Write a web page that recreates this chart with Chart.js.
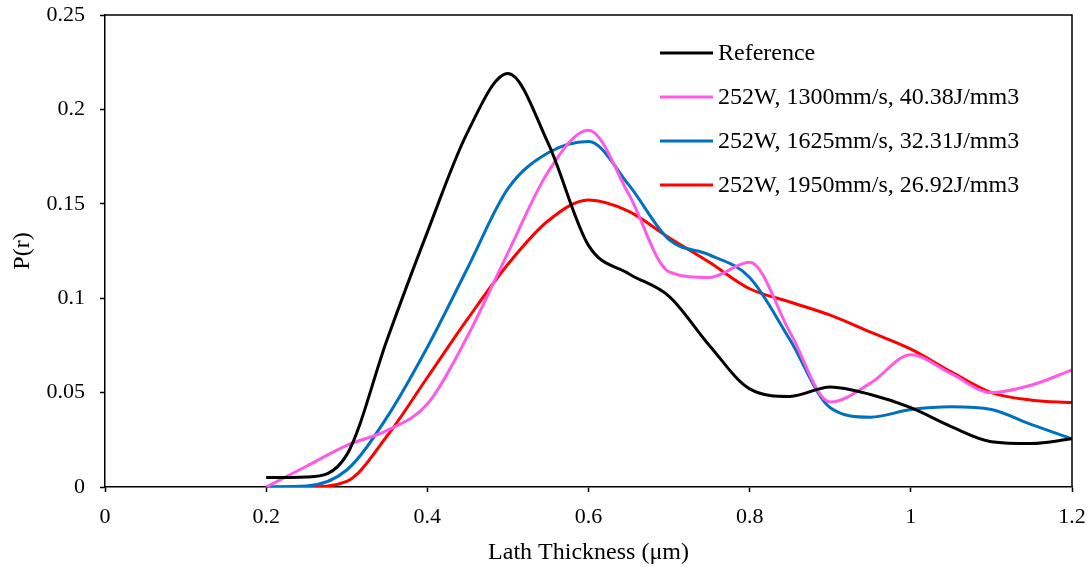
<!DOCTYPE html>
<html>
<head>
<meta charset="utf-8">
<script src="https://cdn.jsdelivr.net/npm/chart.js@4.4.0/dist/chart.umd.min.js"></script>
<style>
  html, body { margin: 0; padding: 0; background: #fff; }
  #wrap { width: 1092px; height: 567px; }
</style>
</head>
<body>
<div id="wrap"><canvas id="chart" width="1092" height="567"></canvas></div>
<script>
// lath thickness (um)
const thickness = [0.2, 0.25, 0.3, 0.35, 0.4, 0.45, 0.5, 0.55, 0.6, 0.65, 0.7,
  0.75, 0.8, 0.85, 0.9, 0.95, 1.0, 1.05, 1.1, 1.15, 1.2];

const seriesNames = [
  "Reference",
  "252W, 1300mm/s, 40.38J/mm3",
  "252W, 1625mm/s, 32.31J/mm3",
  "252W, 1950mm/s, 26.92J/mm3"
];
const seriesColors = ["#000000", "#ff5ae6", "#0070c0", "#ff0000"];

const reference = [0.005, 0.0053, 0.017, 0.078, 0.135, 0.188, 0.219, 0.182, 0.128, 0.113, 0.101,
  0.075, 0.052, 0.048, 0.053, 0.049, 0.042, 0.032, 0.024, 0.023, 0.0255];
const p1300 = [0.0, 0.011, 0.022, 0.030, 0.044, 0.080, 0.124, 0.167, 0.189, 0.155, 0.114,
  0.111, 0.119, 0.082, 0.045, 0.055, 0.070, 0.060, 0.050, 0.054, 0.062];
const p1625 = [0.0, 0.0005, 0.009, 0.037, 0.074, 0.116, 0.158, 0.177, 0.183, 0.160, 0.131,
  0.123, 0.111, 0.078, 0.042, 0.037, 0.041, 0.0425, 0.041, 0.033, 0.0255];
const p1950 = [0.0, 0.0, 0.003, 0.027, 0.058, 0.089, 0.118, 0.141, 0.152, 0.146, 0.132,
  0.119, 0.105, 0.098, 0.091, 0.082, 0.073, 0.061, 0.050, 0.046, 0.0447];

const xTicks = [0, 0.2, 0.4, 0.6, 0.8, 1, 1.2];
const yTicks = [0, 0.05, 0.1, 0.15, 0.2, 0.25];

const FONT = "'Liberation Serif', 'Times New Roman', serif";

const allSeries = [reference, p1300, p1625, p1950];
const datasets = allSeries.map((vals, i) => ({
  label: seriesNames[i],
  data: thickness.map((x, j) => ({ x: x, y: vals[j] })),
  borderColor: seriesColors[i],
  backgroundColor: seriesColors[i],
  borderWidth: 3,
  pointRadius: 0,
  fill: false,
  cubicInterpolationMode: "monotone"
}));

// box round the plot + legend inside it
const frameAndLegend = {
  id: "frameAndLegend",
  afterDraw(chart) {
    const ctx = chart.ctx;
    const a = chart.chartArea;
    ctx.save();
    ctx.strokeStyle = "#000";
    ctx.lineWidth = 1.5;
    ctx.beginPath();
    ctx.moveTo(a.left, a.top);
    ctx.lineTo(a.right, a.top);
    ctx.lineTo(a.right, a.bottom);
    ctx.stroke();

    ctx.font = "24px " + FONT;
    ctx.textBaseline = "middle";
    ctx.fillStyle = "#000";
    seriesNames.forEach((name, i) => {
      const y = 53 + i * 44;
      ctx.strokeStyle = seriesColors[i];
      ctx.lineWidth = 3;
      ctx.beginPath();
      ctx.moveTo(660, y);
      ctx.lineTo(713, y);
      ctx.stroke();
      ctx.fillText(name, 718, y + 1);
    });
    ctx.restore();
  }
};

new Chart(document.getElementById("chart"), {
  type: "line",
  data: { datasets: datasets },
  plugins: [frameAndLegend],
  options: {
    responsive: false,
    animation: false,
    layout: { padding: { top: 15, right: 20, left: 0, bottom: 0 } },
    plugins: { legend: { display: false }, tooltip: { enabled: false } },
    scales: {
      x: {
        type: "linear",
        min: 0,
        max: 1.2,
        afterFit(scale) {
          scale.height = 80;
          scale.paddingLeft = 0;
          scale.paddingRight = 0;
        },
        afterBuildTicks(scale) { scale.ticks = xTicks.map(v => ({ value: v })); },
        border: { color: "#000", width: 1.5 },
        grid: { drawOnChartArea: false, drawTicks: true, tickLength: 5, tickColor: "#000", tickWidth: 1.5 },
        ticks: {
          color: "#000",
          padding: 12,
          font: { family: FONT, size: 22 },
          callback: v => String(v)
        },
        title: {
          display: true,
          text: "Lath Thickness (μm)",
          color: "#000",
          font: { family: FONT, size: 24 },
          padding: { top: 0, bottom: 0 }
        }
      },
      y: {
        type: "linear",
        min: 0,
        max: 0.25,
        afterFit(scale) {
          scale.width = 105;
          scale.paddingTop = 0;
          scale.paddingBottom = 0;
        },
        afterBuildTicks(scale) { scale.ticks = yTicks.map(v => ({ value: v })); },
        border: { color: "#000", width: 1.5 },
        grid: { drawOnChartArea: false, drawTicks: true, tickLength: 5, tickColor: "#000", tickWidth: 1.5 },
        ticks: {
          color: "#000",
          padding: 15,
          font: { family: FONT, size: 22 },
          callback: v => String(v)
        },
        title: {
          display: true,
          text: "P(r)",
          color: "#000",
          font: { family: FONT, size: 24 },
          padding: { top: 8, bottom: 0 }
        }
      }
    }
  }
});
</script>
</body>
</html>
